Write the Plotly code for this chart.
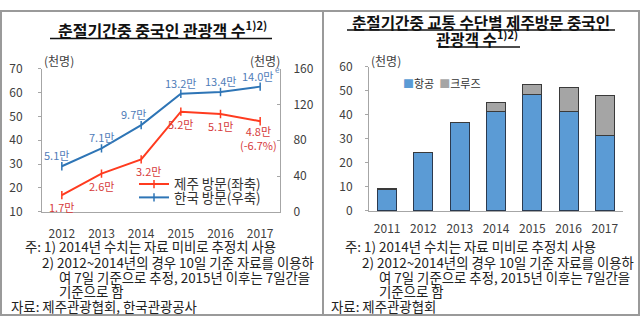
import plotly.graph_objects as go

# ---------------- data ----------------
years_left = ["2012", "2013", "2014", "2015", "2016", "2017"]
jeju_visit = [17, 26, 32, 52, 51, 48]          # 천명, left axis
korea_visit = [51, 71, 97, 132, 134, 140]      # 천명, right axis

years_right = ["2011", "2012", "2013", "2014", "2015", "2016", "2017"]
air = [9.0, 24.2, 36.8, 41.5, 48.4, 41.5, 31.6]
cruise = [0.2, 0.2, 0.2, 3.8, 4.2, 10.1, 16.6]

W, H = 640, 324
def px(x):
    return x / W
def py(y):
    return 1 - y / H

FONT = "Noto Sans CJK KR"
TICKC = "#404040"
AXC = "#a6a6a6"
BLUE = "#2e75b6"
RED = "#ff3b1f"
BLUE_LBL = "#4f7cb8"
RED_LBL = "#d63a3a"
BAR_BLUE = "#5b9bd5"
BAR_GRAY = "#a5a5a5"

fig = go.Figure()

# ---------------- left chart ----------------
fig.add_trace(go.Scatter(
    x=years_left, y=jeju_visit, name="제주 방문(좌축)", mode="lines+markers",
    line=dict(color=RED, width=2),
    marker=dict(symbol="line-ns-open", size=6, color=RED, line=dict(color=RED, width=1.5)),
    xaxis="x", yaxis="y", legend="legend"))
fig.add_trace(go.Scatter(
    x=years_left, y=korea_visit, name="한국 방문(우축)", mode="lines+markers",
    line=dict(color=BLUE, width=2),
    marker=dict(symbol="line-ns-open", size=6, color=BLUE, line=dict(color=BLUE, width=1.5)),
    xaxis="x", yaxis="y2", legend="legend2"))

# ---------------- right chart ----------------
fig.add_trace(go.Bar(
    x=years_right, y=air, name="항공", marker=dict(color=BAR_BLUE, line=dict(color="#2b3a4f", width=1)),
    width=0.52, xaxis="x2", yaxis="y3", showlegend=False))
fig.add_trace(go.Bar(
    x=years_right, y=cruise, name="크루즈", marker=dict(color=BAR_GRAY, line=dict(color="#3a3a3a", width=1)),
    width=0.52, xaxis="x2", yaxis="y3", showlegend=False))

tickfont = dict(family=FONT, size=12, color=TICKC)
legfont = dict(family=FONT, size=13.5, color="#333333")

fig.update_layout(
    width=W, height=H,
    margin=dict(l=0, r=0, t=0, b=0),
    paper_bgcolor="white", plot_bgcolor="white",
    barmode="stack",
    font=dict(family=FONT, color="#333333"),
    xaxis=dict(domain=[px(42), px(280)], anchor="y", type="category",
               range=[-0.5, len(years_left) - 0.5],
               showline=True, linecolor=AXC, linewidth=1, ticks="", showgrid=False,
               tickfont=tickfont, ticklabelstandoff=11),
    yaxis=dict(domain=[py(213), py(62)], anchor="x", range=[10, 70], dtick=10,
               showline=True, linecolor=AXC, linewidth=1, ticks="outside", ticklen=3, tickcolor=AXC,
               showgrid=False, zeroline=False, tickfont=tickfont, ticklabelstandoff=13),
    yaxis2=dict(overlaying="y", anchor="x", side="right", range=[0, 160], dtick=40,
                showline=True, linecolor=AXC, linewidth=1, ticks="inside", ticklen=3, tickcolor=AXC,
                showgrid=False, zeroline=False, tickfont=tickfont, ticklabelstandoff=10),
    xaxis2=dict(domain=[px(369), px(623)], anchor="y3", type="category",
                range=[-0.5, len(years_right) - 0.5],
                showline=True, linecolor=AXC, linewidth=1, ticks="", showgrid=False,
                tickfont=tickfont, ticklabelstandoff=7),
    yaxis3=dict(domain=[py(212), py(60)], anchor="x2", range=[0, 60], dtick=10,
                showline=True, linecolor=AXC, linewidth=1, ticks="outside", ticklen=3, tickcolor=AXC,
                showgrid=False, zeroline=False, tickfont=tickfont, ticklabelstandoff=10),
    legend=dict(x=px(134), y=py(184), xanchor="left", yanchor="middle",
                bgcolor="rgba(0,0,0,0)", font=legfont, itemwidth=30),
    legend2=dict(x=px(134), y=py(198), xanchor="left", yanchor="middle",
                 bgcolor="rgba(0,0,0,0)", font=legfont, itemwidth=30),
)

ann = []
# data labels (x given as category index), blue above, red below
blue_dx = [-5, 0, -8, 0, 0, -2]
for i, v in enumerate(korea_visit):
    ann.append(dict(x=i, y=v, xref="x", yref="y2", text=f"{v/10:.1f}만", showarrow=False,
                    xanchor="center", yanchor="middle",
                    yshift=11, xshift=blue_dx[i], font=dict(family=FONT, size=11, color=BLUE_LBL)))
red_dx = [0, 0, 7, 0, 0, -2]
for i, v in enumerate(jeju_visit):
    txt = f"{v/10:.1f}만"
    ys = -12
    if i == len(jeju_visit) - 1:
        txt = f"{v/10:.1f}만<br>(-6.7%)"
        ys = -17
    ann.append(dict(x=i, y=v, xref="x", yref="y", text=txt, showarrow=False,
                    xanchor="center", yanchor="middle",
                    yshift=ys, xshift=red_dx[i], font=dict(family=FONT, size=11, color=RED_LBL)))

def note(x, y, text, font, xanchor="left"):
    return dict(x=px(x), y=py(y), xref="paper", yref="paper", text=text, showarrow=False,
                xanchor=xanchor, yanchor="middle", font=font)

# small marker "e"
ann.append(note(277, 63, "e", dict(family=FONT, size=8, color=BLUE_LBL), "center"))

# titles
ann.append(note(162, 21, "<b>춘절기간중 중국인 관광객 수<sup>1)2)</sup></b>",
                dict(family=FONT, size=16, color="#111111"), "center"))
ann.append(note(481, 13, "<b>춘절기간중 교통 수단별 제주방문 중국인</b>",
                dict(family=FONT, size=15.6, color="#111111"), "center"))
ann.append(note(477, 30, "<b>관광객 수<sup>1)2)</sup></b>",
                dict(family=FONT, size=15.6, color="#111111"), "center"))

# units
unit_font = dict(family=FONT, size=12, color="#404040")
ann.append(note(42, 53, "(천명)", unit_font, "left"))
ann.append(note(282, 53, "(천명)", unit_font, "right"))
ann.append(note(369, 53, "(천명)", unit_font, "left"))

# right legend
ann.append(note(401, 77,
                f"<span style='color:{BAR_BLUE}'>■</span>항공  <span style='color:{BAR_GRAY}'>■</span>크루즈",
                dict(family=FONT, size=11, color="#333333"), "left"))

# footnotes
fn_font = dict(family=FONT, size=13.4, color="#222222")
notes_left = [
    (23, 249, "주: 1) 2014년 수치는 자료 미비로 추정치 사용"),
    (40, 266, "2) 2012~2014년의 경우 10일 기준 자료를 이용하"),
    (57, 282, "여 7일 기준으로 추정, 2015년 이후는 7일간을"),
    (57, 297, "기준으로 함"),
    (9, 312, "자료: 제주관광협회, 한국관광공사"),
]
notes_right = [
    (343, 249, "주: 1) 2014년 수치는 자료 미비로 추정치 사용"),
    (360, 266, "2) 2012~2014년의 경우 10일 기준 자료를 이용하"),
    (377, 282, "여 7일 기준으로 추정, 2015년 이후는 7일간을"),
    (377, 297, "기준으로 함"),
    (329, 312, "자료: 제주관광협회"),
]
for x, y, t in notes_left + notes_right:
    ann.append(note(x, y, t, fn_font, "left"))

fig.update_layout(annotations=ann)

shapes = [
    dict(type="rect", xref="paper", yref="paper", x0=px(1), x1=px(639), y0=py(322), y1=py(1),
         line=dict(color="#9a9a9a", width=2)),
    dict(type="line", xref="paper", yref="paper", x0=px(323), x1=px(323), y0=py(322), y1=py(1),
         line=dict(color="#9a9a9a", width=2)),
    dict(type="line", xref="paper", yref="paper", x0=px(50), x1=px(272), y0=py(30), y1=py(30),
         line=dict(color="#111111", width=1.5)),
    dict(type="line", xref="paper", yref="paper", x0=px(347), x1=px(615), y0=py(21), y1=py(21),
         line=dict(color="#111111", width=1.5)),
    dict(type="line", xref="paper", yref="paper", x0=px(438), x1=px(520), y0=py(39), y1=py(39),
         line=dict(color="#111111", width=1.5)),
]
fig.update_layout(shapes=shapes)

fig.write_html("out.html")
